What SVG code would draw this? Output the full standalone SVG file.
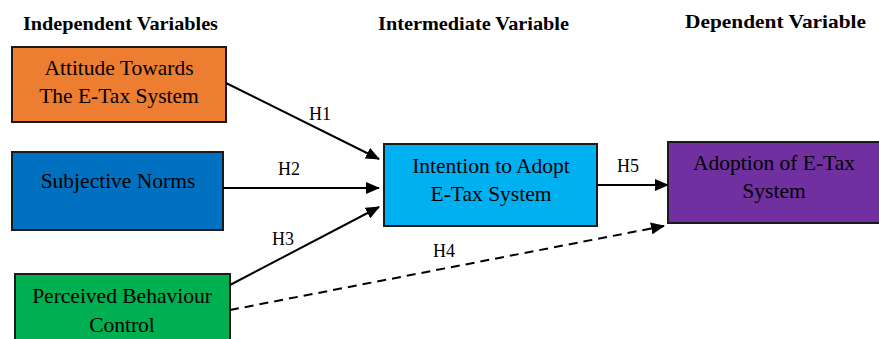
<svg xmlns="http://www.w3.org/2000/svg" width="879" height="339" viewBox="0 0 879 339">
<style>
.box{stroke:#1a1a1a;stroke-width:2}
.t{font-family:"Liberation Serif","Times New Roman",serif;font-size:21.5px;fill:#000;text-anchor:middle}
.h{font-family:"Liberation Serif","Times New Roman",serif;font-size:18px;fill:#000}
.title{font-family:"Liberation Serif","Times New Roman",serif;font-size:19px;font-weight:bold;fill:#000}
.c{stroke:#000;stroke-width:2;fill:none}
</style>
<defs>
<marker id="ah" markerWidth="14" markerHeight="12" refX="13" refY="6" orient="auto" markerUnits="userSpaceOnUse">
<path d="M0,0 L14,6 L0,12 Z" fill="#000"/>
</marker>
</defs>
<rect width="879" height="339" fill="#fff"/>
<text class="title" x="23" y="30" textLength="195" lengthAdjust="spacingAndGlyphs">Independent Variables</text>
<text class="title" x="378" y="30" textLength="191" lengthAdjust="spacingAndGlyphs">Intermediate Variable</text>
<text class="title" x="685" y="28" textLength="181" lengthAdjust="spacingAndGlyphs">Dependent Variable</text>
<g id="attitude">
<rect class="box" x="12" y="47" width="214" height="75" fill="#ED7D31"/>
<text class="t" x="119" y="75">Attitude Towards</text>
<text class="t" x="119" y="103">The E-Tax System</text>
</g>
<g id="norms">
<rect class="box" x="12" y="152" width="211" height="78" fill="#0070C0"/>
<text class="t" x="118" y="188">Subjective Norms</text>
</g>
<g id="pbc">
<rect class="box" x="15" y="274" width="215" height="80" fill="#00B050"/>
<text class="t" x="122" y="303">Perceived Behaviour</text>
<text class="t" x="122" y="332">Control</text>
</g>
<g id="intention">
<rect class="box" x="384" y="144" width="213" height="82" fill="#00B0F0"/>
<text class="t" x="491" y="173">Intention to Adopt</text>
<text class="t" x="491" y="201">E-Tax System</text>
</g>
<g id="adoption">
<rect class="box" x="668" y="142" width="215" height="81" fill="#7030A0"/>
<text class="t" x="774" y="170">Adoption of E-Tax</text>
<text class="t" x="774" y="198">System</text>
</g>
<g id="connectors">
<line class="c" x1="226" y1="83" x2="379" y2="159" marker-end="url(#ah)"/>
<line class="c" x1="223" y1="188" x2="379" y2="188" marker-end="url(#ah)"/>
<line class="c" x1="230" y1="285" x2="379" y2="207" marker-end="url(#ah)"/>
<line class="c" x1="230" y1="310" x2="664" y2="226" stroke-dasharray="9,6" marker-end="url(#ah)"/>
<line class="c" x1="597" y1="185" x2="668" y2="185" marker-end="url(#ah)"/>
<text class="h" x="309" y="120">H1</text>
<text class="h" x="278" y="175">H2</text>
<text class="h" x="272" y="245">H3</text>
<text class="h" x="433" y="257">H4</text>
<text class="h" x="617" y="172">H5</text>
</g>
</svg>
